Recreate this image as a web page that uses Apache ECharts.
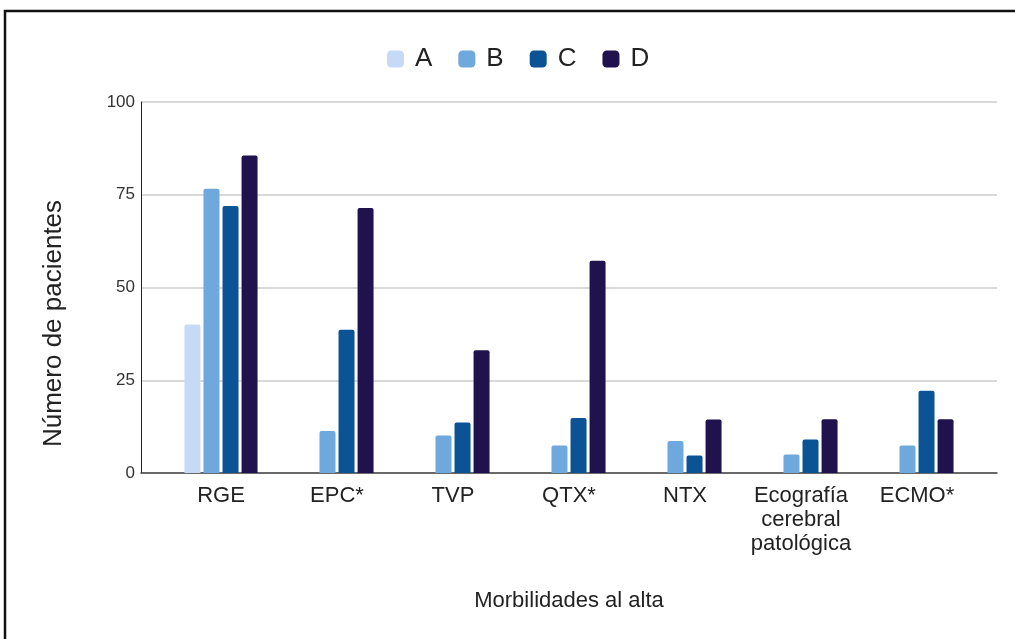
<!DOCTYPE html>
<html>
<head>
<meta charset="utf-8">
<script src="https://cdn.jsdelivr.net/npm/echarts@6/dist/echarts.min.js"></script>
<style>html,body{margin:0;padding:0;background:#fff;}#chart{width:1015px;height:639px;}</style>
</head>
<body>
<div id="chart"></div>
<script>
const categories = ['RGE', 'EPC*', 'TVP', 'QTX*', 'NTX', 'Ecografía\ncerebral\npatológica', 'ECMO*'];
const seriesNames = ['A', 'B', 'C', 'D'];
const valuesA = [40, 0, 0, 0, 0, 0, 0];
const valuesB = [76.6, 11.3, 10.1, 7.4, 8.6, 5.0, 7.4];
const valuesC = [72, 38.6, 13.6, 14.8, 4.7, 9.0, 22.2];
const valuesD = [85.6, 71.4, 33.1, 57.2, 14.4, 14.5, 14.5];
const yTicks = [0, 25, 50, 75, 100];

const colors = ['#c6daf8', '#6fa8dc', '#0b5394', '#20124d'];
const font = '"Liberation Sans", Arial, sans-serif';
const allValues = [valuesA, valuesB, valuesC, valuesD];

const chart = echarts.init(document.getElementById('chart'));
chart.setOption({
  backgroundColor: '#fff',
  color: colors,
  animation: false,
  textStyle: { fontFamily: font },
  graphic: [{
    type: 'polyline',
    shape: { points: [[5, 639], [5, 11], [1015, 11]] },
    style: { stroke: '#111', lineWidth: 2.5, fill: null }
  }],
  legend: {
    data: seriesNames,
    top: 41,
    left: 382,
    itemWidth: 17,
    itemHeight: 17,
    itemGap: 26,
    icon: 'roundRect',
    textStyle: { fontSize: 26, color: '#222', fontFamily: font, padding: [0, 0, 0, 6] }
  },
  grid: [
    { left: 141, right: 18, top: 102, bottom: 166 },
    { left: 163, right: 40, top: 102, bottom: 166 }
  ],
  xAxis: [{
    gridIndex: 0,
    type: 'value',
    min: 0, max: 1,
    axisLine: { show: true, onZero: false, lineStyle: { color: '#444', width: 1.5 } },
    axisTick: { show: false },
    axisLabel: { show: false },
    splitLine: { show: false },
    name: 'Morbilidades al alta',
    nameLocation: 'middle',
    nameGap: 117,
    nameTextStyle: { fontSize: 22, color: '#222', fontFamily: font }
  }, {
    gridIndex: 1,
    type: 'category',
    data: categories,
    axisLine: { show: false },
    axisTick: { show: false },
    axisLabel: { fontSize: 22, color: '#222', margin: 11, lineHeight: 24, fontFamily: font, interval: 0 }
  }],
  yAxis: [{
    gridIndex: 0,
    type: 'value',
    min: yTicks[0], max: yTicks[yTicks.length - 1], interval: 25,
    axisLine: { show: true, lineStyle: { color: '#222', width: 1 } },
    axisTick: { show: false },
    axisLabel: { fontSize: 17, color: '#333', margin: 6, fontFamily: font },
    splitLine: { show: true, lineStyle: { color: '#cccccc', width: 1.5 } },
    name: 'Número de pacientes',
    nameLocation: 'middle',
    nameGap: 74,
    nameTextStyle: { fontSize: 26, color: '#222', fontFamily: font, padding: [0, 72, 0, 0] }
  }, {
    gridIndex: 1,
    type: 'value',
    min: yTicks[0], max: yTicks[yTicks.length - 1], interval: 25,
    show: false
  }],
  series: seriesNames.map((n, i) => ({
    name: n,
    type: 'bar',
    xAxisIndex: 1,
    yAxisIndex: 1,
    data: allValues[i],
    barWidth: 16,
    barGap: '19%',
    itemStyle: { borderRadius: [2, 2, 0, 0] }
  }))
});
</script>
</body>
</html>
